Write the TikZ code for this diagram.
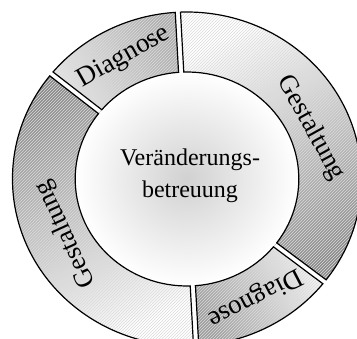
\documentclass[tikz,border=0pt]{standalone}
\usepackage{fontspec}
\setmainfont{Liberation Serif}
\usetikzlibrary{patterns}
\tikzset{
  segline/.style={draw=black, line width=1.2pt, line join=miter},
  hatch/.style={pattern=north east lines, pattern color=black!14},
  centertext/.style={align=center, font=\fontsize{24}{32}\selectfont, inner sep=0pt},
  diaglabel/.style={inner sep=0pt, font=\fontsize{27}{27}\selectfont},
  gestlabel/.style={inner sep=0pt, font=\fontsize{26.5}{26.5}\selectfont},
}
\begin{document}
\begin{tikzpicture}
\clip (0pt,0pt) rectangle (357pt,-339pt);
\fill[white] (0pt,0pt) rectangle (357pt,-339pt);
\begin{scope}[shift={(187pt,-179pt)}, xscale=1.045]
  % inner disc
  \fill[inner color=black!18, outer color=white] (0pt,0pt) circle[radius=107pt];
  % ring segments
  \foreach \a/\b/\lc/\dc/\sa in {93/141/black!10/black!32/117, -38/93/white/black!46/27.5, -87/-38/black!5/black!38/297.5, 141/273/white/black!46/207}{
    \shade[top color=\lc, bottom color=\dc, shading angle=\sa]
      ({\a+0.86}:167pt) arc[start angle=\a+0.86, end angle=\b-0.86, radius=167pt]
      -- ({\b-1.34}:107pt) arc[start angle=\b-1.34, end angle=\a+1.34, radius=107pt] -- cycle;
    \fill[hatch]
      ({\a+0.86}:167pt) arc[start angle=\a+0.86, end angle=\b-0.86, radius=167pt]
      -- ({\b-1.34}:107pt) arc[start angle=\b-1.34, end angle=\a+1.34, radius=107pt] -- cycle;
    \draw[segline]
      ({\a+0.86}:167pt) arc[start angle=\a+0.86, end angle=\b-0.86, radius=167pt]
      -- ({\b-1.34}:107pt) arc[start angle=\b-1.34, end angle=\a+1.34, radius=107pt] -- cycle;
  }
\end{scope}
% ring labels
\node[diaglabel, rotate=29.5]  (diagtop) at (124pt,-57pt)    {Diagnose};
\node[gestlabel, rotate=-61]   (gestright) at (311pt,-128pt) {Gestaltung};
\node[diaglabel, rotate=207.4] (diagbottom) at (255pt,-297pt) {Diagnose};
\node[gestlabel, rotate=114.7] (gestleft) at (66pt,-234pt)   {Gestaltung};
\node[centertext] (center) at (190pt,-175.4pt) {Veränderungs-\\betreuung};
\end{tikzpicture}
\end{document}
